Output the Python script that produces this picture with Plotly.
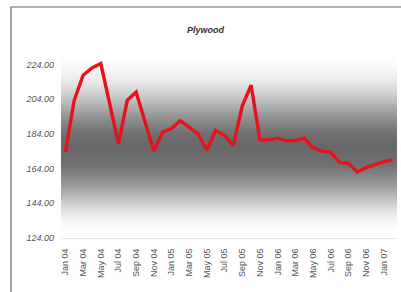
import base64
import plotly.graph_objects as go

months = ["Jan 04", "Feb 04", "Mar 04", "Apr 04", "May 04", "Jun 04", "Jul 04", "Aug 04",
          "Sep 04", "Oct 04", "Nov 04", "Dec 04", "Jan 05", "Feb 05", "Mar 05", "Apr 05",
          "May 05", "Jun 05", "Jul 05", "Aug 05", "Sep 05", "Oct 05", "Nov 05", "Dec 05",
          "Jan 06", "Feb 06", "Mar 06", "Apr 06", "May 06", "Jun 06", "Jul 06", "Aug 06",
          "Sep 06", "Oct 06", "Nov 06", "Dec 06", "Jan 07", "Feb 07"]
plywood = [173.6, 203.4, 217.8, 222.0, 224.5, 201.0, 178.4, 203.4,
           208.0, 191.0, 174.0, 185.0, 187.0, 191.5, 188.0, 184.0,
           174.5, 186.0, 183.0, 177.5, 200.0, 212.0, 180.5, 180.5,
           181.5, 180.0, 180.0, 181.5, 176.0, 174.0, 173.5, 167.5,
           167.0, 162.0, 164.5, 166.5, 168.0, 169.0]
tick_labels = months[::2]
y_ticks = [124, 144, 164, 184, 204, 224]

W, H = 401, 292
L, R, T, B = 61, 4, 55, 54
pw, ph = W - L - R, H - T - B

# smooth vertical background gradient (white - gray - white) as an SVG image
stops = [(0, 255), (6, 250), (15, 232), (24, 195), (35, 142), (43, 112), (50, 104),
         (60, 112), (70, 147), (80, 200), (87, 235), (94, 252), (100, 255)]
stop_xml = "".join(f'<stop offset="{o}%" stop-color="rgb({g},{g},{g})"/>' for o, g in stops)
svg = ('<svg xmlns="http://www.w3.org/2000/svg" width="100" height="100" preserveAspectRatio="none">'
       '<defs><linearGradient id="g" x1="0" y1="0" x2="0" y2="1">' + stop_xml +
       '</linearGradient></defs><rect width="100" height="100" fill="url(#g)"/></svg>')
bg_src = "data:image/svg+xml;base64," + base64.b64encode(svg.encode()).decode()

fig = go.Figure()
fig.add_trace(go.Scatter(x=months, y=plywood, mode="lines",
                         line=dict(color="#e8121a", width=3.4),
                         hoverinfo="skip", showlegend=False))

shapes = [dict(type="rect", xref="paper", yref="paper",
               x0=(11 - L) / pw, x1=(W + 2 - L) / pw,
               y0=(H - B - (H + 2)) / ph, y1=(H - B - 7) / ph,
               line=dict(color="#666666", width=1.2), fillcolor="rgba(0,0,0,0)")]

fig.update_layout(
    width=W, height=H,
    margin=dict(l=L, r=R, t=T, b=B),
    paper_bgcolor="white", plot_bgcolor="white",
    shapes=shapes,
    images=[dict(source=bg_src, xref="x domain", yref="y domain", x=0, y=1,
                 sizex=1, sizey=1, xanchor="left", yanchor="top",
                 sizing="stretch", layer="below")],
    annotations=[dict(text="<b><i>Plywood</i></b>", xref="paper", yref="paper",
                      x=(206 - L) / pw, y=(H - B - 30) / ph, showarrow=False,
                      xanchor="center", yanchor="middle",
                      font=dict(family="Liberation Sans, Arial", size=9, color="#333333"))],
    xaxis=dict(type="category", categoryorder="array", categoryarray=months,
               range=[-0.5, len(months) - 0.5],
               tickmode="array", tickvals=tick_labels, ticktext=tick_labels,
               tickangle=-90, showgrid=False, zeroline=False,
               showline=True, linecolor="#e6e6e6", linewidth=1,
               ticks="", ticklabelstandoff=6, automargin=False,
               tickfont=dict(family="Liberation Sans, Arial", size=9, color="#555555")),
    yaxis=dict(range=[124, 229.4], tickmode="array", tickvals=y_ticks,
               ticktext=[f"<i>{v:.2f}</i>" for v in y_ticks],
               showgrid=False, zeroline=False, showline=False, ticks="",
               ticklabelstandoff=6, automargin=False,
               tickfont=dict(family="Liberation Sans, Arial", size=9, color="#555555")),
)

fig.write_html("out.html", post_script="document.body.style.margin='0';",
               config={"displayModeBar": False, "staticPlot": True})
